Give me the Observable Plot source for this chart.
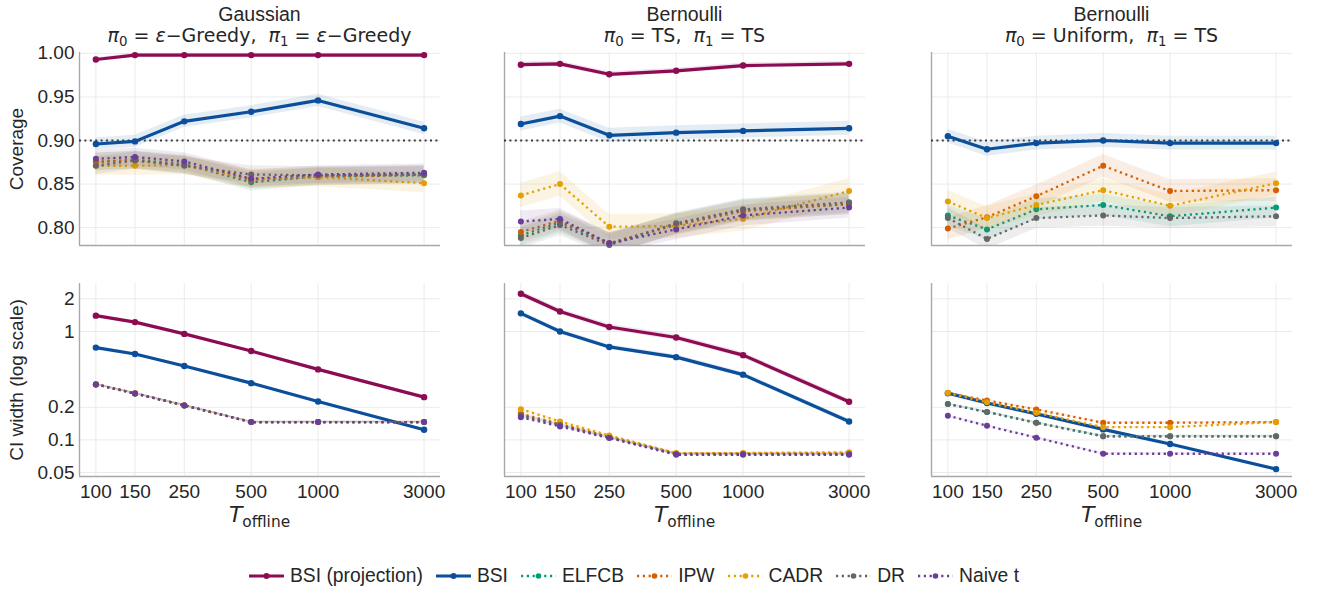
<!DOCTYPE html>
<html><head><meta charset="utf-8">
<script src="https://cdn.jsdelivr.net/npm/d3@7"></script>
<script src="https://cdn.jsdelivr.net/npm/@observablehq/plot@0.6"></script>
<style>
body{margin:0;background:#fff;}
#fig{position:relative;width:1323px;height:592px;overflow:hidden;font-family:"Liberation Sans",Arial,sans-serif;color:#262626;}
.abs{position:absolute;white-space:nowrap;}
.t1{font-size:19.5px;line-height:22px;text-align:center;}
.t2{font-family:"DejaVu Sans",sans-serif;font-size:19px;line-height:22px;text-align:center;}
.t2 sub,.xl sub{font-size:0.7em;vertical-align:-0.3em;line-height:0;}
.yl{font-size:19px;text-align:center;transform:rotate(-90deg);}
.xl{font-family:"DejaVu Sans",sans-serif;font-size:22px;line-height:26px;text-align:center;}
#legend{display:flex;align-items:center;font-size:19.3px;}
#legend .item{display:flex;align-items:center;margin-right:12px;}
#legend .item span{margin-left:4px;}
</style></head><body><div id="fig"></div>
<script>
// ---------- data ----------
const T = [100, 150, 250, 500, 1000, 3000];
const methods = ["BSI (projection)", "BSI", "ELFCB", "IPW", "CADR", "DR", "Naive t"];
const colors = ["#8c0b52", "#0b4f9b", "#009e73", "#d55e00", "#e69f00", "#666666", "#6a3d9a"];
const solidMethods = ["BSI (projection)", "BSI"];
const panelNames = ["Gaussian", "Bernoulli", "Bernoulli"];
const policy0 = ["<i>ε</i>−Greedy", "TS", "Uniform"];
const policy1 = ["<i>ε</i>−Greedy", "TS", "TS"];
const nominalCoverage = 0.9;

// coverage (rows follow `methods`)
const coverageGaussian = [
  [0.993, 0.998, 0.998, 0.998, 0.998, 0.998],
  [0.896, 0.899, 0.922, 0.933, 0.946, 0.914],
  [0.875, 0.878, 0.873, 0.852, 0.859, 0.860],
  [0.876, 0.877, 0.872, 0.855, 0.858, 0.861],
  [0.871, 0.871, 0.872, 0.856, 0.858, 0.851],
  [0.871, 0.877, 0.871, 0.861, 0.860, 0.861],
  [0.879, 0.881, 0.876, 0.856, 0.861, 0.863]
];
const coverageTS = [
  [0.987, 0.988, 0.976, 0.980, 0.986, 0.988],
  [0.919, 0.928, 0.906, 0.909, 0.911, 0.914],
  [0.791, 0.806, 0.782, 0.804, 0.820, 0.827],
  [0.795, 0.808, 0.782, 0.803, 0.819, 0.827],
  [0.837, 0.850, 0.801, 0.802, 0.810, 0.842],
  [0.788, 0.803, 0.780, 0.805, 0.821, 0.829],
  [0.807, 0.810, 0.782, 0.798, 0.814, 0.823]
];
const coverageUniform = [
  null,
  [0.905, 0.890, 0.897, 0.900, 0.897, 0.897],
  [0.814, 0.798, 0.821, 0.826, 0.813, 0.823],
  [0.799, 0.812, 0.836, 0.871, 0.842, 0.843],
  [0.830, 0.811, 0.826, 0.843, 0.825, 0.851],
  [0.811, 0.787, 0.811, 0.814, 0.811, 0.813],
  null
];
// coverage band half-widths (per method)
const coverageBandGaussian = [0.002, 0.007, 0.010, 0.010, 0.011, 0.010, 0.010];
const coverageBandTS = [0.003, 0.008, 0.012, 0.012, 0.014, 0.012, 0.012];
const coverageBandUniform = [0, 0.008, 0.012, 0.013, 0.013, 0.012, 0];

// CI width
const widthGaussian = [
  [1.40, 1.22, 0.95, 0.66, 0.447, 0.248],
  [0.71, 0.62, 0.48, 0.334, 0.226, 0.124],
  [0.325, 0.268, 0.208, 0.146, 0.146, 0.146],
  [0.327, 0.269, 0.209, 0.146, 0.146, 0.146],
  [0.325, 0.268, 0.208, 0.146, 0.146, 0.146],
  [0.325, 0.268, 0.208, 0.146, 0.146, 0.146],
  [0.325, 0.268, 0.208, 0.146, 0.146, 0.146]
];
const widthTS = [
  [2.23, 1.53, 1.10, 0.88, 0.605, 0.225],
  [1.47, 1.00, 0.72, 0.58, 0.40, 0.148],
  [0.170, 0.138, 0.106, 0.074, 0.074, 0.074],
  [0.175, 0.140, 0.107, 0.075, 0.075, 0.075],
  [0.192, 0.148, 0.110, 0.0756, 0.0756, 0.077],
  [0.168, 0.137, 0.105, 0.074, 0.074, 0.074],
  [0.162, 0.133, 0.104, 0.073, 0.073, 0.073]
];
const widthUniform = [
  null,
  [0.27, 0.219, 0.174, 0.125, 0.0916, 0.0538],
  [0.214, 0.181, 0.144, 0.108, 0.108, 0.108],
  [0.27, 0.231, 0.191, 0.144, 0.144, 0.146],
  [0.272, 0.222, 0.178, 0.131, 0.131, 0.146],
  [0.214, 0.181, 0.144, 0.108, 0.108, 0.108],
  [0.167, 0.135, 0.105, 0.0746, 0.0746, 0.0746]
];
// relative band half-widths for CI width
const widthBandGaussian = [0.03, 0.03, 0.02, 0.02, 0.02, 0.02, 0.02];
const widthBandTS = [0.06, 0.05, 0.02, 0.02, 0.02, 0.02, 0.02];
const widthBandUniform = [0, 0.03, 0.02, 0.02, 0.02, 0.02, 0.02];

// axes
const xTicks = [100, 150, 250, 500, 1000, 3000];
const xDomain = [84.4, 3556];
const coverageTicks = [0.80, 0.85, 0.90, 0.95, 1.00];
const coverageDomain = [0.7795, 1.001];
const widthTicks = [0.05, 0.1, 0.2, 1, 2];
const widthDomain = [0.046, 2.77];

// ---------- layout ----------
const fig = document.getElementById("fig");
const colLeft = [79, 504, 931];
const frameW = 361;
const rowTop = [52, 283];
const frameH = 193;
const dotted = "2.2,3.6";

const coverageSets = [coverageGaussian, coverageTS, coverageUniform];
const coverageBands = [coverageBandGaussian, coverageBandTS, coverageBandUniform];
const widthSets = [widthGaussian, widthTS, widthUniform];
const widthBands = [widthBandGaussian, widthBandTS, widthBandUniform];

function makePanel(row, col) {
  const isTop = row === 0;
  const values = isTop ? coverageSets[col] : widthSets[col];
  const bands = isTop ? coverageBands[col] : widthBands[col];
  const ml = col === 0 ? 79 : 2, mr = 24, mt = 6, mb = isTop ? 6 : 40;
  const rows = [];
  methods.forEach((m, i) => {
    if (!values[i]) return;
    values[i].forEach((v, j) => {
      if (v == null) return;
      const b = bands[i];
      rows.push({T: T[j], method: m, v,
        lo: isTop ? v - b : v * (1 - b),
        hi: isTop ? v + b : v * (1 + b)});
    });
  });
  const yDomain = isTop ? coverageDomain : widthDomain;
  const yTicks = isTop ? coverageTicks : widthTicks;
  const marks = [
    Plot.ruleX(xTicks, {stroke: "#ebebeb", strokeWidth: 1}),
    Plot.ruleY(yTicks, {stroke: "#ebebeb", strokeWidth: 1}),
    Plot.ruleX([xDomain[0]], {stroke: "#a8a8a8", strokeWidth: 1.4}),
    Plot.ruleY([yDomain[0]], {stroke: "#a8a8a8", strokeWidth: 1.4})
  ];
  if (isTop) marks.push(Plot.ruleY([nominalCoverage], {stroke: "#3a3a3a", strokeWidth: 2, strokeDasharray: "2,3.4", strokeLinecap: "butt"}));
  methods.forEach((m, i) => {
    const d = rows.filter(r => r.method === m);
    if (!d.length) return;
    const solid = solidMethods.includes(m);
    marks.push(Plot.areaY(d, {x: "T", y1: "lo", y2: "hi", fill: colors[i], fillOpacity: 0.11, clip: true}));
    marks.push(Plot.line(d, {x: "T", y: "v", stroke: colors[i], strokeWidth: solid ? 3.2 : 2.3,
      strokeDasharray: solid ? null : dotted, strokeLinecap: solid ? "round" : "butt", clip: true}));
    marks.push(Plot.dot(d, {x: "T", y: "v", fill: colors[i], r: solid ? 3.2 : 3}));
  });
  if (col === 0) marks.push(Plot.axisY({ticks: yTicks, tickSize: 0, tickPadding: 5, fontSize: 19,
    tickFormat: isTop ? d3.format(".2f") : (d => String(d)), label: null}));
  if (!isTop) marks.push(Plot.axisX({ticks: xTicks, tickSize: 0, tickPadding: 8, fontSize: 19,
    tickFormat: d => String(d), label: null}));
  const svg = Plot.plot({
    width: ml + frameW + mr,
    height: mt + frameH + mb,
    marginLeft: ml, marginRight: mr, marginTop: mt, marginBottom: mb,
    style: {fontFamily: "'Liberation Sans', Arial, sans-serif", color: "#262626", background: "transparent", overflow: "visible"},
    x: {type: "log", domain: xDomain, axis: null},
    y: {type: isTop ? "linear" : "log", domain: yDomain, axis: null},
    marks
  });
  svg.style.position = "absolute";
  svg.style.left = (colLeft[col] - ml) + "px";
  svg.style.top = (rowTop[row] - mt) + "px";
  fig.appendChild(svg);
}

for (let r = 0; r < 2; r++) for (let c = 0; c < 3; c++) makePanel(r, c);

// titles
for (let c = 0; c < 3; c++) {
  const a = document.createElement("div");
  a.className = "abs t1";
  a.style.left = colLeft[c] + "px"; a.style.width = frameW + "px"; a.style.top = "3px";
  a.textContent = panelNames[c];
  fig.appendChild(a);
  const b = document.createElement("div");
  b.className = "abs t2";
  b.style.left = colLeft[c] + "px"; b.style.width = frameW + "px"; b.style.top = "24px";
  b.innerHTML = `<i>π</i><sub>0</sub> = ${policy0[c]},&nbsp; <i>π</i><sub>1</sub> = ${policy1[c]}`;
  fig.appendChild(b);
  const x = document.createElement("div");
  x.className = "abs xl";
  x.style.left = colLeft[c] + "px"; x.style.width = frameW + "px"; x.style.top = "502px";
  x.innerHTML = "<i>T</i><sub>offline</sub>";
  fig.appendChild(x);
}
// y labels
[["Coverage", rowTop[0] + frameH / 2], ["CI width (log scale)", rowTop[1] + frameH / 2]].forEach(([txt, cy]) => {
  const d = document.createElement("div");
  d.className = "abs yl";
  const w = 240, h = 24;
  d.style.left = (17 - w / 2) + "px"; d.style.top = (cy - h / 2) + "px";
  d.style.width = w + "px"; d.style.height = h + "px"; d.style.lineHeight = h + "px";
  d.textContent = txt;
  fig.appendChild(d);
});
// legend
const lg = document.createElement("div");
lg.id = "legend"; lg.className = "abs";
lg.style.left = "248px"; lg.style.top = "565px";
methods.forEach((m, i) => {
  const it = document.createElement("div"); it.className = "item";
  const solid = solidMethods.includes(m);
  const s = d3.create("svg").attr("width", 38).attr("height", 14);
  s.append("line").attr("x1", 1).attr("x2", 36).attr("y1", 7).attr("y2", 7)
    .attr("stroke", colors[i]).attr("stroke-width", solid ? 3.2 : 2.3)
    .attr("stroke-dasharray", solid ? null : dotted);
  s.append("circle").attr("cx", 18.5).attr("cy", 7).attr("r", solid ? 3 : 2.8).attr("fill", colors[i]);
  it.appendChild(s.node());
  const sp = document.createElement("span"); sp.textContent = m;
  it.appendChild(sp);
  lg.appendChild(it);
});
fig.appendChild(lg);
</script>
</body></html>
